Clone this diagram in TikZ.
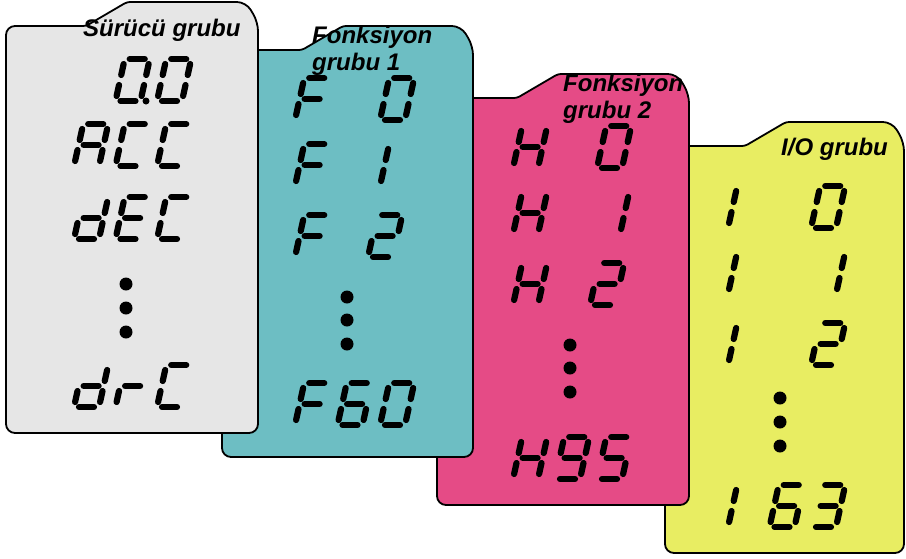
\documentclass[tikz,border=0pt]{standalone}
\usepackage{fontspec}
\setmainfont{Liberation Sans}
\definecolor{cardgray}{HTML}{E6E6E6}
\definecolor{cardteal}{HTML}{6DBEC3}
\definecolor{cardpink}{HTML}{E54B86}
\definecolor{cardyellow}{HTML}{E8ED62}

% seven segment cell: width, height, middle, gap, slant
\newcommand\sgw{25}
\newcommand\sgh{42}
\newcommand\sgm{21}
\newcommand\sgp{5}
\newcommand\sgsl{0.22}
\newcommand\segline[4]{\draw[seg] ({(#1)+\sgsl*(#2)},{-(#2)}) -- ({(#3)+\sgsl*(#4)},{-(#4)});}
\newcommand\sega{\segline{\sgp}{\sgh}{\sgw-\sgp}{\sgh}}
\newcommand\segb{\segline{\sgw}{\sgm+\sgp}{\sgw}{\sgh-\sgp}}
\newcommand\segc{\segline{\sgw}{\sgp}{\sgw}{\sgm-\sgp}}
\newcommand\segd{\segline{\sgp}{0}{\sgw-\sgp}{0}}
\newcommand\sege{\segline{0}{\sgp}{0}{\sgm-\sgp}}
\newcommand\segf{\segline{0}{\sgm+\sgp}{0}{\sgh-\sgp}}
\newcommand\segg{\segline{\sgp}{\sgm}{\sgw-\sgp}{\sgm}}
% characters
\newcommand\dgzero{a,b,c,d,e,f}
\newcommand\dgoneL{e,f}
\newcommand\dgoneR{b,c}
\newcommand\dgtwo{a,b,g,e,d}
\newcommand\dgthree{a,b,g,c,d}
\newcommand\dgfive{a,f,g,c,d}
\newcommand\dgsix{a,f,g,e,d,c}
\newcommand\dgnine{a,b,c,d,f,g}
\newcommand\dgA{a,b,c,e,f,g}
\newcommand\dgC{a,d,e,f}
\newcommand\dgd{b,c,d,e,g}
\newcommand\dgE{a,d,e,f,g}
\newcommand\dgF{a,e,f,g}
\newcommand\dgH{b,c,e,f,g}
\newcommand\dgr{e,g}
\newcommand\sevseg[3]{\begin{scope}[shift={(#1,#2)}]
  \foreach \s in #3 {\csname seg\s\endcsname}\end{scope}}
% tab card: fill, left, body top, width
\newcommand\card[4]{\draw[card, fill=#1] (#2,#3+200) -- (#2,#3)
  [rounded corners=3pt] -- (#2+80,#3) -- (#2+121,#3-24)
  [rounded corners=9pt] -- (#2+#4-12,#3-24) -- (#2+#4,#3-4) -- (#2+#4,#3+407)
  -- (#2,#3+407) -- cycle;}

\begin{document}
\begin{tikzpicture}[x=1pt, y=-1pt,
    card/.style={draw=black, line width=1.8pt, rounded corners=9pt},
    seg/.style={line width=6.2pt, line cap=round},
    grp/.style={anchor=base west, inner sep=0pt, align=left,
                font=\bfseries\itshape\fontsize{24}{27}\selectfont},
    dot/.style={fill=black}
  ]
  \useasboundingbox (0,0) rectangle (906,558);

  % I/O grubu
  \card{cardyellow}{665}{146}{239}
  \node[grp] (lbio) at (781,155) {I/O grubu};
  \sevseg{728}{228}{\dgoneL} \sevseg{811}{228}{\dgzero}
  \sevseg{728}{294}{\dgoneL} \sevseg{811}{294}{\dgoneR}
  \sevseg{728}{365}{\dgoneL} \sevseg{811}{365}{\dgtwo}
  \foreach \y in {398,422,446} \fill[dot] (780,\y) circle (6.5);
  \sevseg{728}{527}{\dgoneL} \sevseg{769.5}{527}{\dgsix} \sevseg{811}{527}{\dgthree}

  % Fonksiyon grubu 2
  \card{cardpink}{437}{98}{252}
  \node[grp] (lbfg2) at (563,118) {Fonksiyon\\grubu 2};
  \sevseg{513}{168}{\dgH} \sevseg{597}{168}{\dgzero}
  \sevseg{513}{234}{\dgH} \sevseg{595}{234}{\dgoneR}
  \sevseg{513}{305}{\dgH} \sevseg{590}{305}{\dgtwo}
  \foreach \y in {345,368,392} \fill[dot] (570,\y) circle (6.5);
  \sevseg{513}{479}{\dgH} \sevseg{555}{479}{\dgnine} \sevseg{597}{479}{\dgfive}

  % Fonksiyon grubu 1
  \card{cardteal}{222}{50}{251}
  \node[grp] (lbfg1) at (312,70) {Fonksiyon\\grubu 1};
  \sevseg{295}{120}{\dgF} \sevseg{380}{120}{\dgzero}
  \sevseg{295}{186}{\dgF} \sevseg{380}{186}{\dgoneL}
  \sevseg{295}{257}{\dgF} \sevseg{368}{257}{\dgtwo}
  \foreach \y in {297,320,344} \fill[dot] (347,\y) circle (6.5);
  \sevseg{295}{425}{\dgF} \sevseg{337.5}{425}{\dgsix} \sevseg{380}{425}{\dgzero}

  % Surucu grubu
  \card{cardgray}{6}{26}{252}
  \node[grp] (lbsg) at (83,36) {Sürücü grubu};
  \sevseg{115.5}{101}{\dgzero} \sevseg{157}{101}{\dgzero}
  \fill[dot] (146,101) circle (3.5);
  \sevseg{74}{166}{\dgA} \sevseg{115.5}{166}{\dgC} \sevseg{157}{166}{\dgC}
  \sevseg{74}{239}{\dgd} \sevseg{115.5}{239}{\dgE} \sevseg{157}{239}{\dgC}
  \foreach \y in {284,308,332} \fill[dot] (126,\y) circle (6.5);
  \sevseg{74}{407}{\dgd} \sevseg{115.5}{407}{\dgr} \sevseg{157}{407}{\dgC}
\end{tikzpicture}
\end{document}
